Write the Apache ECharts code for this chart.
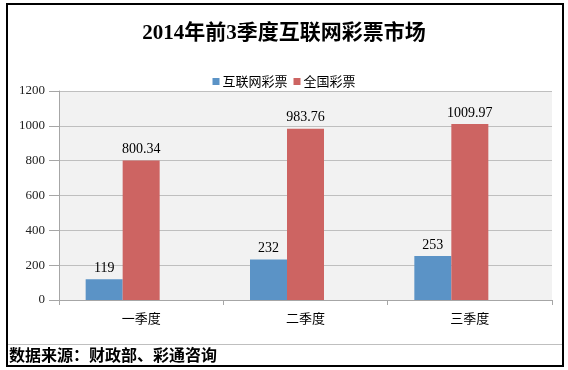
<!DOCTYPE html>
<html>
<head>
<meta charset="utf-8">
<script src="https://cdn.jsdelivr.net/npm/echarts@6/dist/echarts.min.js"></script>
<style>
html,body{margin:0;padding:0;background:#fff;}
#main{width:568px;height:370px;}
</style>
</head>
<body>
<div id="main"></div>
<script>
var categories = ['一季度', '二季度', '三季度'];
var internetLottery = [119, 232, 253];
var nationalLottery = [800.34, 983.76, 1009.97];
var yTicks = { min: 0, max: 1200, interval: 200 };

var serif = '"Liberation Serif", "Noto Sans CJK SC", serif';
var sans = '"Noto Sans CJK SC", sans-serif';

var chart = echarts.init(document.getElementById('main'), null, { renderer: 'canvas' });
chart.setOption({
  backgroundColor: '#ffffff',
  animation: false,
  title: {
    text: '2014年前3季度互联网彩票市场',
    left: 'center',
    top: 18,
    textStyle: { fontFamily: serif, fontWeight: 'bold', fontSize: 21, color: '#000' }
  },
  legend: {
    data: ['互联网彩票', '全国彩票'],
    left: 'center',
    top: 70,
    icon: 'rect',
    itemWidth: 7,
    itemHeight: 7,
    itemGap: 6,
    textStyle: { fontFamily: sans, fontSize: 13, color: '#000', padding: [0, 0, 0, -2] }
  },
  grid: {
    left: 59, top: 91, right: 16, bottom: 70,
    show: true, backgroundColor: '#f2f2f2', borderWidth: 0
  },
  xAxis: {
    type: 'category',
    data: categories,
    axisLine: { lineStyle: { color: '#a6a6a6', width: 1 } },
    axisTick: { show: true, length: 5, lineStyle: { color: '#a6a6a6' } },
    axisLabel: { fontFamily: sans, fontSize: 13, color: '#000', margin: 12 }
  },
  yAxis: {
    type: 'value',
    min: yTicks.min, max: yTicks.max, interval: yTicks.interval,
    axisLine: { show: true, lineStyle: { color: '#a6a6a6' } },
    axisTick: { show: true, length: 10, lineStyle: { color: '#a6a6a6' } },
    splitLine: { lineStyle: { color: '#bfbfbf' } },
    axisLabel: { fontFamily: serif, fontSize: 13, color: '#222', margin: 14,
      formatter: function (v) { return String(v); } }
  },
  series: [
    {
      name: '互联网彩票', type: 'bar', data: internetLottery,
      barWidth: 37, barGap: '0%',
      itemStyle: { color: '#5b93c6' },
      label: { show: true, position: 'top', distance: 4, fontFamily: serif, fontSize: 14, color: '#000' }
    },
    {
      name: '全国彩票', type: 'bar', data: nationalLottery,
      barWidth: 37, barGap: '0%',
      itemStyle: { color: '#cd6462' },
      label: { show: true, position: 'top', distance: 4, fontFamily: serif, fontSize: 14, color: '#000' }
    },
    {
      name: 'empty', type: 'bar', data: ['-', '-', '-'],
      barWidth: 37, barGap: '0%'
    }
  ],
  graphic: [
    { type: 'rect', shape: { x: 7, y: 4, width: 556, height: 362 },
      style: { fill: 'none', stroke: '#000', lineWidth: 2 }, silent: true },
    { type: 'line', shape: { x1: 8, y1: 344.5, x2: 562, y2: 344.5 },
      style: { stroke: '#bfbfbf', lineWidth: 1 }, silent: true },
    { type: 'text', left: 9, top: 347,
      style: { text: '数据来源：财政部、彩通咨询', font: 'bold 16px "Noto Sans CJK SC", sans-serif', fill: '#000' } }
  ]
});
</script>
</body>
</html>
